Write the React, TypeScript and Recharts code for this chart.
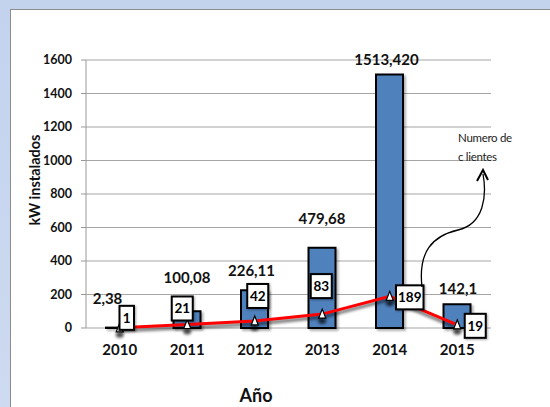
import { Bar, CartesianGrid, ComposedChart, LabelList, Line, XAxis, YAxis } from 'recharts';

const years = ['2010', '2011', '2012', '2013', '2014', '2015'];
const kwInstalados = [2.38, 100.08, 226.11, 479.68, 1513.42, 142.1];
const kwLabels = ['2,38', '100,08', '226,11', '479,68', '1513,420', '142,1'];
const clientes = [1, 21, 42, 83, 189, 19];
const yTicks = [0, 200, 400, 600, 800, 1000, 1200, 1400, 1600];

const data = years.map((year, i) => ({
  year,
  kw: kwInstalados[i],
  kwLabel: kwLabels[i],
  clientes: clientes[i],
}));

// label placement tweaks (relative to the mark), as in the original slide
const barLabelShift = [
  [-12, 30],
  [0, 34],
  [-3, 20],
  [0, 30],
  [-3, 16],
  [1, 16],
];
const boxShift = [
  [7, -10],
  [-5, -16],
  [3, -25],
  [-1, -28],
  [20, 1],
  [18, 1],
];

const FONT = 'Lato, "Liberation Sans", sans-serif';

function BarValueLabel(props: any) {
  const { x, y, width, index } = props;
  const [dx, lift] = barLabelShift[index] || [0, 20];
  return (
    <text
      x={x + width / 2 + dx}
      y={y - lift}
      textAnchor="middle"
      dominantBaseline="central"
      fontFamily={FONT}
      fontWeight={700}
      fontSize={15}
      fill="#111"
    >
      {kwLabels[index]}
    </text>
  );
}

function ClientBox(props: any) {
  const { x, y, value, index } = props;
  const [dx, dy] = boxShift[index] || [0, -20];
  const txt = String(value);
  const w = 8 + 6.5 * txt.length;
  const h = 24;
  const cx = x + dx;
  const cy = y + dy;
  return (
    <g>
      <rect
        x={cx - w / 2}
        y={cy - h / 2}
        width={w}
        height={h}
        fill="#fff"
        stroke="#000"
        strokeWidth={2}
        style={{ filter: 'drop-shadow(1px 1px 1px rgba(0,0,0,0.35))' }}
      />
      <text
        x={cx}
        y={cy}
        textAnchor="middle"
        dominantBaseline="central"
        fontFamily={FONT}
        fontWeight={700}
        fontSize={13.5}
        fill="#000"
      >
        {txt}
      </text>
    </g>
  );
}

function TriangleDot(props: any) {
  const { cx, cy } = props;
  if (cx == null || cy == null) return null;
  return (
    <g>
      <ellipse cx={cx} cy={cy + 7} rx={4} ry={3} fill="#000" opacity={0.7} style={{ filter: 'blur(1.5px)' }} />
      <path
        d={`M ${cx} ${cy - 5} L ${cx + 3.5} ${cy + 4} L ${cx - 3.5} ${cy + 4} Z`}
        fill="#fff"
        stroke="#000"
        strokeWidth={1.2}
      />
    </g>
  );
}

export default function App() {
  return (
    <div
      style={{
        position: 'relative',
        width: 550,
        height: 407,
        overflow: 'hidden',
        background: 'linear-gradient(180deg, #c3d3ee 0%, #cddaf0 100%)',
      }}
    >
      <style>{`
        body { margin: 0; }
        .recharts-line-curve { filter: drop-shadow(0px 3px 1.5px rgba(0,0,0,0.6)); }
        .recharts-bar-rectangle path { filter: drop-shadow(2px 2px 1px rgba(0,0,0,0.3)); }
      `}</style>
      <div
        style={{
          position: 'absolute',
          left: 10,
          top: 9,
          width: 540,
          height: 398,
          background: '#fff',
          borderLeft: '1px solid #8c8c8c',
          borderTop: '1px solid #8c8c8c',
        }}
      />
      <div style={{ position: 'absolute', left: 0, top: 0 }}>
        <ComposedChart
          width={550}
          height={407}
          data={data}
          margin={{ top: 60, right: 59, bottom: 49, left: 26 }}
        >
          <CartesianGrid vertical={false} stroke="#a6a6a6" strokeWidth={1.2} />
          <XAxis
            dataKey="year"
            height={30}
            axisLine={false}
            tickLine={false}
            tickSize={0}
            tickMargin={16}
            tick={{ fill: '#111', fontSize: 15, fontWeight: 700, fontFamily: FONT }}
          />
          <YAxis
            width={60}
            domain={[0, 1600]}
            ticks={yTicks}
            interval={0}
            axisLine={{ stroke: '#999' }}
            tickLine={{ stroke: '#999' }}
            tickSize={5}
            tickMargin={9}
            tick={{ fill: '#111', fontSize: 12.5, fontWeight: 700, fontFamily: FONT }}
          />
          <Bar dataKey="kw" barSize={27} fill="#4f81bd" stroke="#000" strokeWidth={2} isAnimationActive={false}>
            <LabelList dataKey="kw" content={BarValueLabel} />
          </Bar>
          <Line
            dataKey="clientes"
            type="linear"
            stroke="#ff0000"
            strokeWidth={3}
            dot={TriangleDot}
            activeDot={false}
            isAnimationActive={false}
          >
            <LabelList dataKey="clientes" content={ClientBox} />
          </Line>
        </ComposedChart>
      </div>
      <svg width={550} height={407} style={{ position: 'absolute', left: 0, top: 0, pointerEvents: 'none' }}>
        <text
          x={34}
          y={180}
          transform="rotate(-90 34 180)"
          textAnchor="middle"
          dominantBaseline="central"
          fontFamily={FONT}
          fontWeight={700}
          fontSize={14.5}
          fill="#111"
        >
          kW instalados
        </text>
        <text x={256} y={395} textAnchor="middle" dominantBaseline="central" fontFamily={FONT} fontWeight={700} fontSize={18} fill="#111">
          Año
        </text>
        <text x={458} y={137} dominantBaseline="central" fontFamily={FONT} fontSize={11.5} fill="#222" letterSpacing={-0.3}>
          Numero de
        </text>
        <text x={458} y={156} dominantBaseline="central" fontFamily={FONT} fontSize={11.5} fill="#222" letterSpacing={-0.3}>
          c lientes
        </text>
        <path
          d="M 422 287 C 418 252, 432 236, 458 230 C 484 224, 487 196, 483 174"
          fill="none"
          stroke="#000"
          strokeWidth={1.3}
        />
        <path d="M 477 181 L 483 170 L 488 180" fill="none" stroke="#000" strokeWidth={2} />
      </svg>
    </div>
  );
}
